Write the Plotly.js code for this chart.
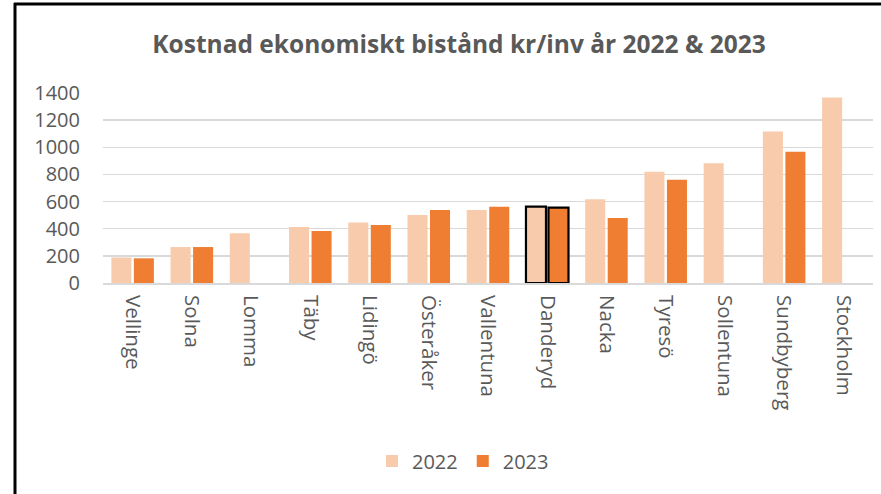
<!DOCTYPE html>
<html>
<head>
<meta charset="utf-8">
<script src="https://cdn.plot.ly/plotly-3.0.1.min.js"></script>
<style>
  html, body { margin: 0; padding: 0; background: #ffffff; }
  #chart { width: 881px; height: 494px; }
</style>
</head>
<body>
<div id="chart"></div>
<script>
const categories = ["Vellinge", "Solna", "Lomma", "Täby", "Lidingö", "Österåker", "Vallentuna", "Danderyd", "Nacka", "Tyresö", "Sollentuna", "Sundbyberg", "Stockholm"];
const values2022 = [188, 265, 366, 413, 445, 501, 538, 563, 617, 820, 882, 1116, 1366];
const values2023 = [182, 265, null, 383, 427, 538, 561, 556, 479, 761, null, 968, null];
const yTicks = [0, 200, 400, 600, 800, 1000, 1200, 1400];
const highlighted = "Danderyd";

const W = 881, H = 494;
const ml = 103, mr = 8, mt = 93, mb = 211;
const pw = W - ml - mr, ph = H - mt - mb;
function px2x(px) { return (px - ml) / pw; }
function px2y(py) { return (H - mb - py) / ph; }

const lineW = categories.map(c => c === highlighted ? 2.2 : 0);
const lineC = categories.map(c => c === highlighted ? '#000000' : 'rgba(0,0,0,0)');

const traces = [
  {
    type: 'bar', name: '2022', x: categories, y: values2022,
    marker: { color: '#F8CBAD', line: { width: lineW, color: lineC } },
    hoverinfo: 'x+y'
  },
  {
    type: 'bar', name: '2023', x: categories, y: values2023,
    marker: { color: '#F07E32', line: { width: lineW, color: lineC } },
    hoverinfo: 'x+y'
  }
];

const layout = {
  width: W, height: H,
  margin: { l: ml, r: mr, t: mt, b: mb, pad: 0 },
  paper_bgcolor: '#ffffff', plot_bgcolor: '#ffffff',
  barmode: 'group', bargap: 0.24, bargroupgap: 0.11,
  showlegend: true,
  title: {
    text: '<b>Kostnad ekonomiskt bistånd kr/inv år 2022 & 2023</b>',
    font: { family: 'Open Sans', size: 24.5, color: '#595959' },
    xref: 'container', yref: 'container',
    x: 459 / W, xanchor: 'center',
    y: 1 - 44 / H, yanchor: 'middle'
  },
  xaxis: {
    type: 'category',
    tickangle: 90,
    tickfont: { family: 'Open Sans', size: 20.5, color: '#595959' },
    showgrid: false, zeroline: false,
    showline: true, linecolor: '#D9D9D9', linewidth: 2,
    ticks: '', ticklabelstandoff: 6,
    fixedrange: true
  },
  yaxis: {
    range: [0, 1400],
    tickvals: yTicks,
    ticktext: yTicks.map(String),
    tickfont: { family: 'Open Sans', size: 20, color: '#595959' },
    showgrid: true, gridcolor: '#D9D9D9', gridwidth: 1.5,
    zeroline: false, showline: false, ticks: '',
    ticklabelstandoff: 22,
    fixedrange: true
  },
  legend: {
    orientation: 'h',
    x: px2x(463), xanchor: 'center',
    y: px2y(461), yanchor: 'middle',
    font: { family: 'Open Sans', size: 20, color: '#595959' },
    itemwidth: 30,
    traceorder: 'normal'
  },
  shapes: [
    { type: 'line', xref: 'paper', yref: 'paper',
      x0: px2x(15), x1: px2x(15), y0: px2y(3), y1: px2y(494),
      line: { color: '#000000', width: 3 } },
    { type: 'line', xref: 'paper', yref: 'paper',
      x0: px2x(14), x1: px2x(881), y0: px2y(4), y1: px2y(4),
      line: { color: '#000000', width: 3 } }
  ]
};

Plotly.newPlot('chart', traces, layout, { displayModeBar: false, staticPlot: true });
</script>
</body>
</html>
